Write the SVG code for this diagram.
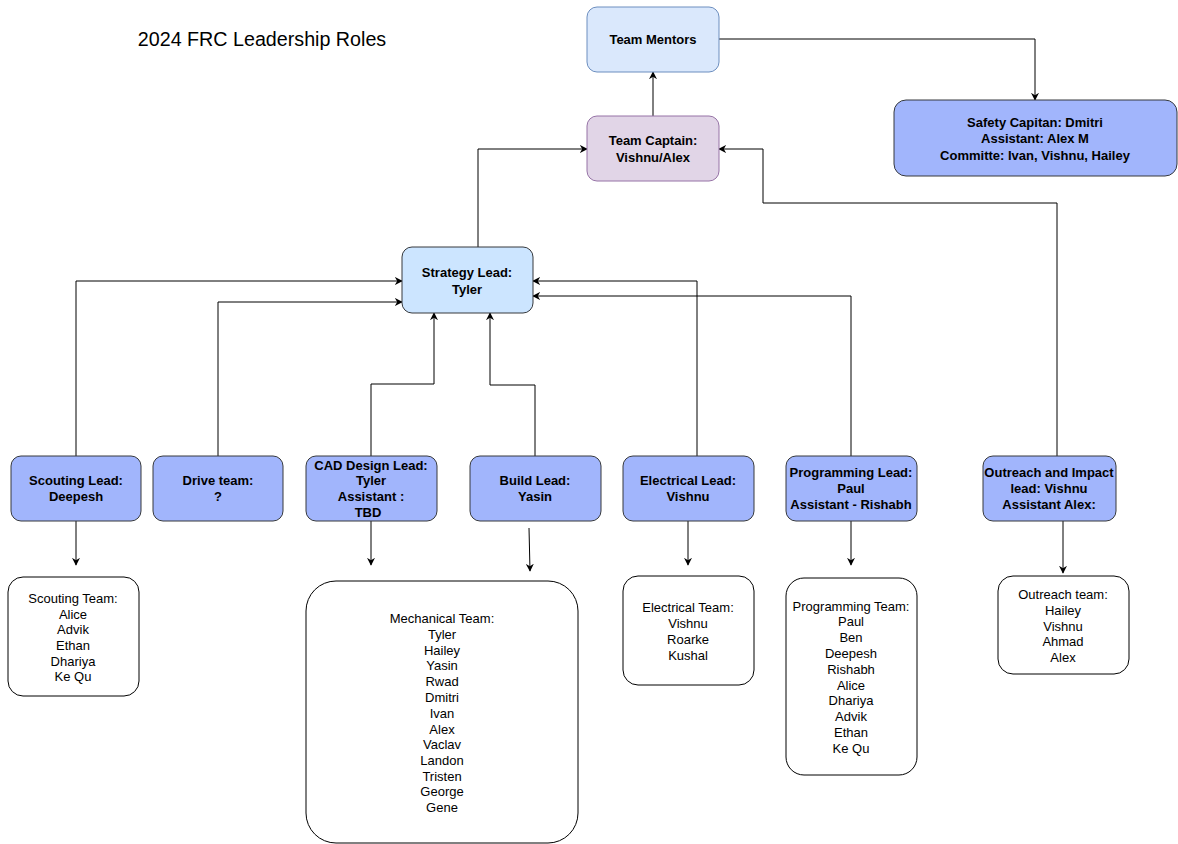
<svg xmlns="http://www.w3.org/2000/svg" width="1178" height="844" viewBox="0 0 1178 844">
<defs>
<marker id="ah" viewBox="0 0 10 10" refX="9" refY="5" markerWidth="8" markerHeight="8" markerUnits="userSpaceOnUse" orient="auto">
<path d="M0,0 L10,5 L0,10 L3,5 Z" fill="#000"/>
</marker>
<style>
text{font-family:"Liberation Sans",Arial,sans-serif;font-size:13px;fill:#000;text-anchor:middle}
.b{font-weight:bold}
.lead{fill:#a1b5fc;stroke:#36393d;stroke-width:1}
.team{fill:#fff;stroke:#000;stroke-width:1}
.c{fill:none;stroke:#000;stroke-width:1;marker-end:url(#ah)}
</style>
</defs>
<rect width="1178" height="844" fill="#fff"/>
<text x="262" y="46" style="font-size:19.7px">2024 FRC Leadership Roles</text>

<g id="connectors">
<path class="c" d="M653,116 V72"/>
<path class="c" d="M719,39 H1035 V100"/>
<path class="c" d="M478,247 V149 H587"/>
<path class="c" d="M1057,456 V203 H763 V149 H719"/>
<path class="c" d="M76,456 V281 H402"/>
<path class="c" d="M218,456 V302 H402"/>
<path class="c" d="M371,456 V384 H434 V313"/>
<path class="c" d="M535,456 V385 H490 V313"/>
<path class="c" d="M697,456 V281 H533"/>
<path class="c" d="M851,456 V296 H533"/>
<path class="c" d="M76,521 V565"/>
<path class="c" d="M371,521 V565"/>
<path class="c" d="M529,528 L530,571"/>
<path class="c" d="M688,521 V565"/>
<path class="c" d="M851,521 V565"/>
<path class="c" d="M1063,521 V573"/>
</g>

<g id="mentors">
<rect x="587" y="7" width="132" height="65" rx="10" fill="#dae8fc" stroke="#6c8ebf"/>
<text class="b" x="653" y="44">Team Mentors</text>
</g>
<g id="captain">
<rect x="587" y="116" width="132" height="65" rx="10" fill="#e1d5e7" stroke="#9673a6"/>
<text class="b" x="653" y="145">Team Captain:</text>
<text class="b" x="653" y="162">Vishnu/Alex</text>
</g>
<g id="safety">
<rect x="894" y="100" width="283" height="76" rx="12" class="lead"/>
<text class="b" x="1035" y="127">Safety Capitan: Dmitri</text>
<text class="b" x="1035" y="143">Assistant: Alex M</text>
<text class="b" x="1035" y="160">Committe: Ivan, Vishnu, Hailey</text>
</g>
<g id="strategy">
<rect x="402" y="247" width="131" height="66" rx="10" fill="#cce5ff" stroke="#36393d"/>
<text class="b" x="467" y="277">Strategy Lead:</text>
<text class="b" x="467" y="294">Tyler</text>
</g>

<g id="scouting-lead">
<rect x="11" y="456" width="130" height="65" rx="10" class="lead"/>
<text class="b" x="76" y="485">Scouting Lead:</text>
<text class="b" x="76" y="501">Deepesh</text>
</g>
<g id="drive-team">
<rect x="153" y="456" width="130" height="65" rx="10" class="lead"/>
<text class="b" x="218" y="485">Drive team:</text>
<text class="b" x="218" y="501">?</text>
</g>
<g id="cad-lead">
<rect x="306" y="456" width="131" height="65" rx="10" class="lead"/>
<text class="b" x="371" y="470">CAD Design Lead:</text>
<text class="b" x="371" y="485">Tyler</text>
<text class="b" x="371" y="501">Assistant :</text>
<text class="b" x="368" y="517">TBD</text>
</g>
<g id="build-lead">
<rect x="470" y="456" width="131" height="65" rx="10" class="lead"/>
<text class="b" x="535" y="485">Build Lead:</text>
<text class="b" x="535" y="501">Yasin</text>
</g>
<g id="electrical-lead">
<rect x="623" y="456" width="131" height="65" rx="10" class="lead"/>
<text class="b" x="688" y="485">Electrical Lead:</text>
<text class="b" x="688" y="501">Vishnu</text>
</g>
<g id="programming-lead">
<rect x="786" y="456" width="131" height="65" rx="10" class="lead"/>
<text class="b" x="851" y="477">Programming Lead:</text>
<text class="b" x="851" y="493">Paul</text>
<text class="b" x="851" y="509">Assistant - Rishabh</text>
</g>
<g id="outreach-lead">
<rect x="983" y="456" width="133" height="65" rx="10" class="lead"/>
<text class="b" x="1049" y="477">Outreach and Impact</text>
<text class="b" x="1049" y="493">lead: Vishnu</text>
<text class="b" x="1049" y="509">Assistant Alex:</text>
</g>

<g id="scouting-team">
<rect x="8" y="577" width="131" height="119" rx="15" class="team"/>
<text x="73" y="603">Scouting Team:</text>
<text x="73" y="619">Alice</text>
<text x="73" y="634">Advik</text>
<text x="73" y="650">Ethan</text>
<text x="73" y="666">Dhariya</text>
<text x="73" y="681">Ke Qu</text>
</g>
<g id="mechanical-team">
<rect x="306" y="581" width="272" height="262" rx="30" class="team"/>
<text x="442" y="623">Mechanical Team:</text>
<text x="442" y="639">Tyler</text>
<text x="442" y="655">Hailey</text>
<text x="442" y="670">Yasin</text>
<text x="442" y="686">Rwad</text>
<text x="442" y="702">Dmitri</text>
<text x="442" y="718">Ivan</text>
<text x="442" y="734">Alex</text>
<text x="442" y="749">Vaclav</text>
<text x="442" y="765">Landon</text>
<text x="442" y="781">Tristen</text>
<text x="442" y="796">George</text>
<text x="442" y="812">Gene</text>
</g>
<g id="electrical-team">
<rect x="623" y="576" width="131" height="109" rx="15" class="team"/>
<text x="688" y="612">Electrical Team:</text>
<text x="688" y="628">Vishnu</text>
<text x="688" y="644">Roarke</text>
<text x="688" y="660">Kushal</text>
</g>
<g id="programming-team">
<rect x="786" y="578" width="131" height="197" rx="18" class="team"/>
<text x="851" y="611">Programming Team:</text>
<text x="851" y="626">Paul</text>
<text x="851" y="642">Ben</text>
<text x="851" y="658">Deepesh</text>
<text x="851" y="674">Rishabh</text>
<text x="851" y="690">Alice</text>
<text x="851" y="705">Dhariya</text>
<text x="851" y="721">Advik</text>
<text x="851" y="737">Ethan</text>
<text x="851" y="753">Ke Qu</text>
</g>
<g id="outreach-team">
<rect x="998" y="576" width="131" height="98" rx="15" class="team"/>
<text x="1063" y="599">Outreach team:</text>
<text x="1063" y="615">Hailey</text>
<text x="1063" y="631">Vishnu</text>
<text x="1063" y="646">Ahmad</text>
<text x="1063" y="662">Alex</text>
</g>
</svg>
